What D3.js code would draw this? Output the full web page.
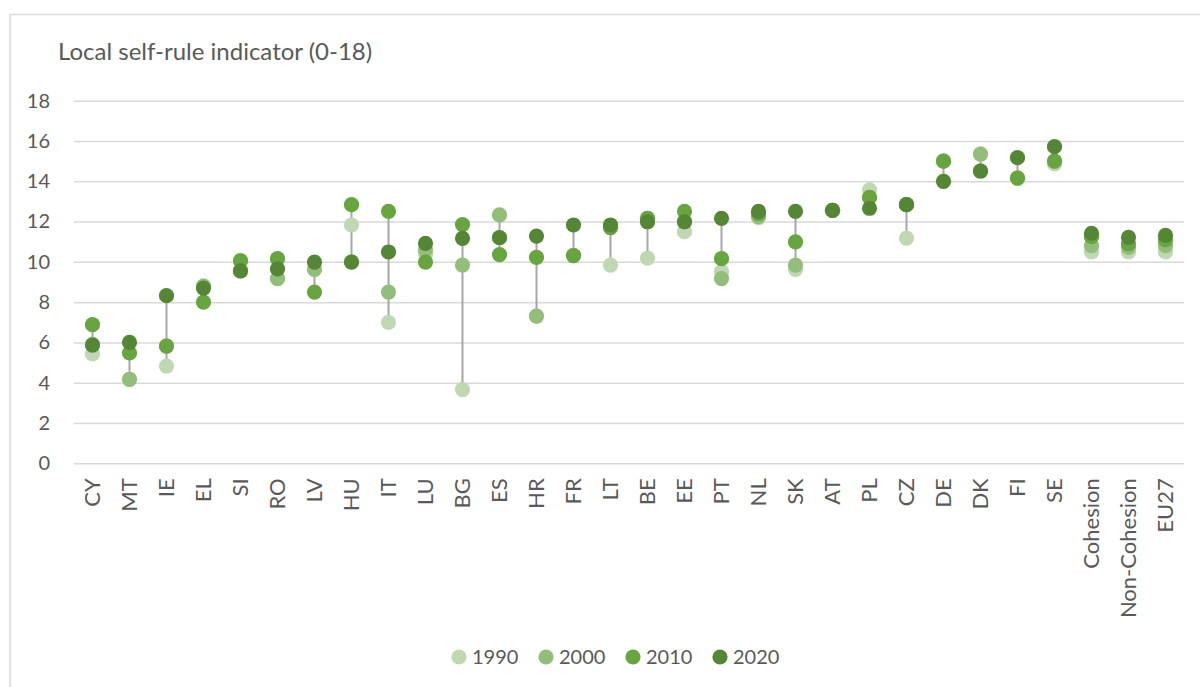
<!DOCTYPE html>
<html>
<head>
<meta charset="utf-8">
<script src="https://cdn.jsdelivr.net/npm/d3@7"></script>
<style>
  body { margin: 0; background: #fff; }
  svg text { font-family: Lato, "Open Sans", sans-serif; fill: #595959; }
</style>
</head>
<body>
<div class="chart"></div>
<script>
const WIDTH = 1200;
const HEIGHT = 687;

var categories = ['CY', 'MT', 'IE', 'EL', 'SI', 'RO', 'LV', 'HU', 'IT', 'LU', 'BG', 'ES', 'HR', 'FR', 'LT',
    'BE', 'EE', 'PT', 'NL', 'SK', 'AT', 'PL', 'CZ', 'DE', 'DK', 'FI', 'SE', 'Cohesion', 'Non-Cohesion', 'EU27'];

var years = ['1990', '2000', '2010', '2020'];

var values1990 = [5.43, 4.17, 4.83, 8.8, 9.55, 9.17, 9.63, 11.83, 7.0, 10.4, 3.66, 11.2, 7.31, 10.31, 9.84,
    10.18, 11.5, 9.51, 12.2, 9.63, 12.56, 13.57, 11.18, 14.0, 15.35, 14.16, 14.86, 10.49, 10.49, 10.49];
var values2000 = [5.9, 4.17, 5.82, 8.8, 9.55, 9.17, 9.63, 10.0, 8.5, 10.6, 9.84, 12.33, 7.31, 10.31, 11.7,
    12.16, 12.0, 9.17, 12.25, 9.84, 12.56, 13.2, 12.84, 15.0, 15.35, 14.16, 15.0, 10.8, 10.72, 10.8];
var values2010 = [6.88, 5.48, 5.82, 8.0, 10.06, 10.16, 8.5, 12.84, 12.51, 9.99, 11.85, 10.36, 10.22, 10.31, 11.7,
    12.16, 12.51, 10.16, 12.4, 10.99, 12.56, 13.2, 12.84, 15.0, 14.51, 14.16, 15.0, 11.25, 10.89, 11.09];
var values2020 = [5.87, 6.0, 8.32, 8.7, 9.55, 9.65, 9.99, 9.99, 10.49, 10.92, 11.17, 11.2, 11.28, 11.83, 11.83,
    11.99, 11.99, 12.16, 12.51, 12.51, 12.56, 12.66, 12.84, 14.0, 14.51, 15.17, 15.72, 11.42, 11.22, 11.32];

var yTicks = [0, 2, 4, 6, 8, 10, 12, 14, 16, 18];
var colors = ['#bfd7b3', '#93bd7b', '#68a440', '#558636'];

var series = [values1990, values2000, values2010, values2020];

var xScale = d3.scaleBand().domain(categories).range([74, 1184]).padding(0);
var yScale = d3.scaleLinear().domain([0, 18]).range([463.3, 100.7]);

var svg = d3.select('.chart').append('svg')
    .attr('width', WIDTH)
    .attr('height', HEIGHT);

// outer frame (right and bottom edges fall outside the picture)
svg.append('rect')
    .attr('x', 10).attr('y', 14.5)
    .attr('width', 1300).attr('height', 700)
    .attr('fill', 'none')
    .attr('stroke', '#d9d9d9')
    .attr('stroke-width', 1.5);

svg.append('text')
    .attr('x', 58).attr('y', 60)
    .attr('font-size', 24)
    .text('Local self-rule indicator (0-18)');

// y axis with gridlines
var yAxis = d3.axisLeft(yScale).tickValues(yTicks).tickSize(-(1184 - 74)).tickPadding(24);
var yAxisG = svg.append('g').attr('transform', 'translate(74,0)').call(yAxis);
yAxisG.select('.domain').remove();
yAxisG.selectAll('.tick line').attr('stroke', '#d9d9d9').attr('stroke-width', 1.5);
yAxisG.selectAll('.tick text').attr('font-size', 20).attr('fill', '#595959');

// x axis labels
var xAxis = d3.axisBottom(xScale).tickSize(0).tickPadding(0);
var xAxisG = svg.append('g').attr('transform', 'translate(0,463.3)').call(xAxis);
xAxisG.select('.domain').remove();
xAxisG.selectAll('.tick text')
    .attr('font-size', 22)
    .attr('fill', '#595959')
    .attr('text-anchor', 'end')
    .attr('transform', 'rotate(-90)')
    .attr('x', -15)
    .attr('y', 0)
    .attr('dy', '0.35em');

// range lines
var ranges = categories.map(function (c, i) {
    var vals = series.map(function (s) { return s[i]; });
    return {cat: c, min: d3.min(vals), max: d3.max(vals)};
});
svg.append('g').selectAll('line').data(ranges).enter().append('line')
    .attr('x1', function (d) { return xScale(d.cat) + xScale.bandwidth() / 2; })
    .attr('x2', function (d) { return xScale(d.cat) + xScale.bandwidth() / 2; })
    .attr('y1', function (d) { return yScale(d.min); })
    .attr('y2', function (d) { return yScale(d.max); })
    .attr('stroke', '#a6a6a6')
    .attr('stroke-width', 2);

// dots
series.forEach(function (vals, si) {
    svg.append('g').selectAll('circle').data(vals).enter().append('circle')
        .attr('cx', function (d, i) { return xScale(categories[i]) + xScale.bandwidth() / 2; })
        .attr('cy', function (d) { return yScale(d); })
        .attr('r', 7.6)
        .attr('fill', colors[si]);
});

// legend
var legend = svg.append('g').attr('transform', 'translate(459,657)');
var items = legend.selectAll('g').data(years).enter().append('g')
    .attr('transform', function (d, i) { return 'translate(' + (i * 87) + ',0)'; });
items.append('circle').attr('r', 7.6).attr('fill', function (d, i) { return colors[i]; });
items.append('text')
    .attr('x', 13).attr('dy', '0.35em')
    .attr('font-size', 20)
    .text(function (d) { return d; });
</script>
</body>
</html>
